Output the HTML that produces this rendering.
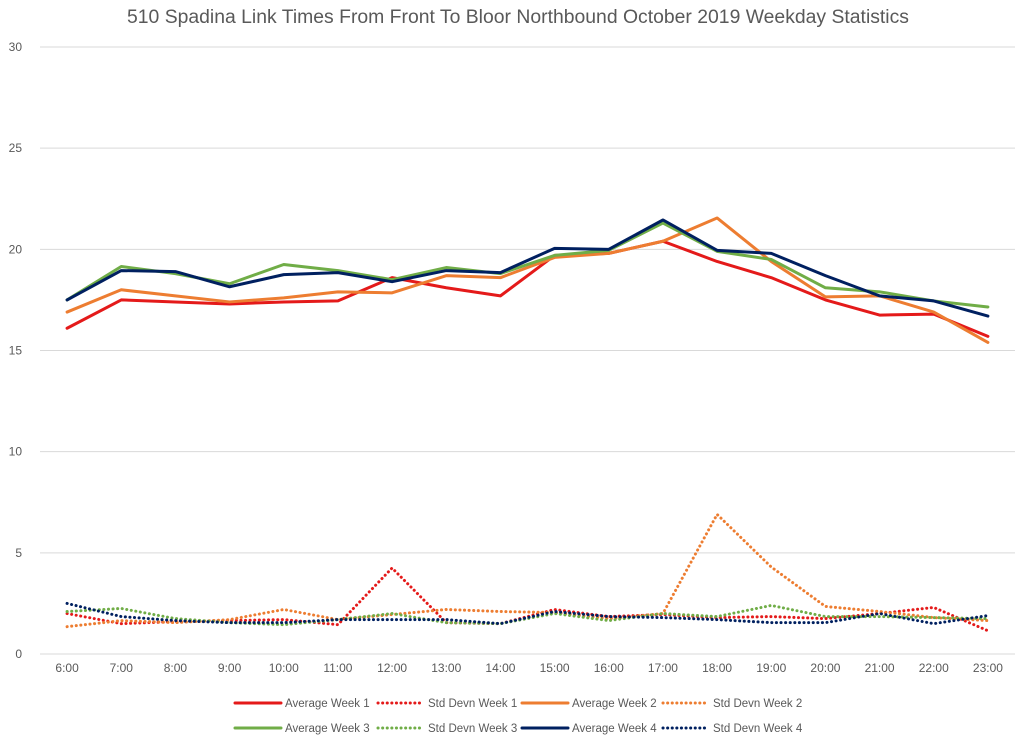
<!DOCTYPE html>
<html><head><meta charset="utf-8"><style>
body{margin:0;background:#fff;font-family:"Liberation Sans",sans-serif}
svg text{font-family:"Liberation Sans",sans-serif;fill:#595959}
</style></head><body>
<svg id="chart" width="1024" height="743" xmlns="http://www.w3.org/2000/svg">
<text x="518" y="23" text-anchor="middle" font-size="19" textLength="782" lengthAdjust="spacingAndGlyphs">510 Spadina Link Times From Front To Bloor Northbound October 2019 Weekday Statistics</text>
<g id="grid"></g><g id="series"></g><g id="legend"></g>
</svg>
<script>
const categories=["6:00","7:00","8:00","9:00","10:00","11:00","12:00","13:00","14:00","15:00","16:00","17:00","18:00","19:00","20:00","21:00","22:00","23:00"];
const yTicks=[0,5,10,15,20,25,30];
const avgW1=[16.1,17.5,17.4,17.3,17.4,17.45,18.6,18.1,17.7,19.7,19.8,20.4,19.4,18.6,17.5,16.75,16.8,15.7];
const stdW1=[2.0,1.5,1.6,1.65,1.7,1.45,4.25,1.55,1.5,2.2,1.85,1.95,1.8,1.85,1.75,2.0,2.3,1.15];
const avgW2=[16.9,18.0,17.7,17.4,17.6,17.9,17.85,18.7,18.6,19.6,19.8,20.4,21.55,19.4,17.65,17.7,16.9,15.4];
const stdW2=[1.35,1.65,1.55,1.7,2.2,1.7,1.95,2.2,2.1,2.05,1.75,2.0,6.9,4.3,2.35,2.1,1.8,1.65];
const avgW3=[17.5,19.15,18.8,18.3,19.25,18.95,18.5,19.1,18.8,19.7,19.95,21.3,19.9,19.5,18.1,17.9,17.45,17.15];
const stdW3=[2.1,2.25,1.75,1.55,1.45,1.7,2.0,1.55,1.5,2.0,1.65,2.0,1.85,2.4,1.85,1.85,1.8,1.75];
const avgW4=[17.5,18.95,18.9,18.15,18.75,18.85,18.4,18.95,18.85,20.05,20.0,21.45,19.95,19.8,18.7,17.7,17.45,16.7];
const stdW4=[2.5,1.85,1.65,1.55,1.55,1.7,1.7,1.7,1.5,2.1,1.85,1.8,1.7,1.55,1.55,2.0,1.5,1.9];
const seriesNames=["Average Week 1","Std Devn Week 1","Average Week 2","Std Devn Week 2","Average Week 3","Std Devn Week 3","Average Week 4","Std Devn Week 4"];
const NS="http://www.w3.org/2000/svg";
const x0=40,x1=1015,yB=654,yT=47;
const xs=i=>x0+(x1-x0)/categories.length*(i+0.5);
const ys=v=>yB-(yB-yT)*v/30;
function mk(t,a,p){const e=document.createElementNS(NS,t);for(const k in a)e.setAttribute(k,a[k]);p.appendChild(e);return e;}
const grid=document.getElementById('grid');
yTicks.forEach(v=>{
 const l=mk('line',{x1:x0,x2:x1,y1:ys(v),y2:ys(v),stroke:'#d9d9d9','stroke-width':1},grid);
 
 
 const t=mk('text',{x:22,y:ys(v)+4,'text-anchor':'end','font-size':12},grid);t.textContent=v;
 
 
});
categories.forEach((c,i)=>{
 const t=mk('text',{x:xs(i),y:672,'text-anchor':'middle','font-size':12},grid);t.textContent=c;
 
 
});
const data=[avgW1,stdW1,avgW2,stdW2,avgW3,stdW3,avgW4,stdW4];
const colors=['#e41a1a','#e41a1a','#ed7d31','#ed7d31','#70ad47','#70ad47','#002060','#002060'];
const sg=document.getElementById('series');
const order=[1,3,5,7,0,2,4,6];
order.forEach(k=>{
 const dotted=k%2==1;
 const pts=data[k].map((v,i)=>xs(i)+','+ys(v)).join(' ');
 const p=mk('polyline',{points:pts,fill:'none',stroke:colors[k],'stroke-width':dotted?3:3,'stroke-linejoin':'round','stroke-linecap':'round','stroke-dasharray':dotted?'0.1 4.5':'none'},sg);
 
 
});
const lg=document.getElementById('legend');
const colX=[235,378,522,663];
seriesNames.forEach((n,k)=>{
 const row=Math.floor(k/4),col=k%4,y=[703,728][row],x=colX[col];
 const g=mk('g',{},lg);
 
 
 const dotted=k%2==1;
 mk('line',{x1:x,x2:x+46,y1:y,y2:y,stroke:colors[k],'stroke-width':3,'stroke-linecap':'round','stroke-dasharray':dotted?'0.1 4.5':'none'},g);
 const t=mk('text',{x:x+50,y:y+4,'font-size':11.5},g);t.textContent=n;
});
</script>
</body></html>
